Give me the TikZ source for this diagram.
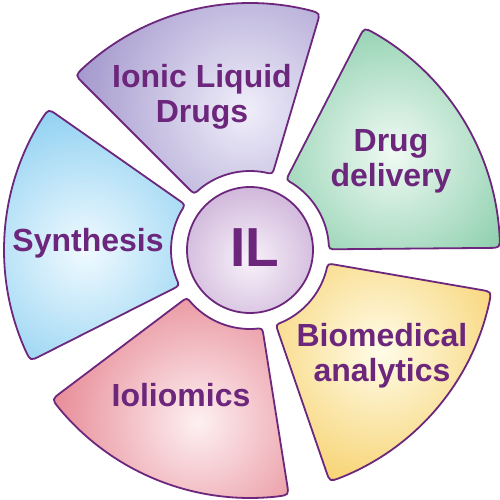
\documentclass[tikz,border=0pt]{standalone}
\usepackage{fontspec}
\setmainfont{Liberation Sans}
\definecolor{edgec}{RGB}{108,38,124}
\definecolor{purO}{RGB}{145,132,194}
\definecolor{purI}{RGB}{240,238,250}
\definecolor{grnO}{RGB}{92,186,138}
\definecolor{grnI}{RGB}{240,250,244}
\definecolor{ylwO}{RGB}{243,190,55}
\definecolor{ylwI}{RGB}{255,252,232}
\definecolor{pnkO}{RGB}{222,95,110}
\definecolor{pnkI}{RGB}{253,240,242}
\definecolor{bluO}{RGB}{100,190,235}
\definecolor{bluI}{RGB}{240,250,255}
\definecolor{cirO}{RGB}{172,130,190}
\definecolor{cirI}{RGB}{248,242,250}
% #1 start angle, #2 end angle, #3 inner radius, #4 outer radius
\newcommand\segpath[4]{({#1}:{#3+8}) -- ({#1}:{#4-11})
  .. controls ({#1}:{#4}) .. ({#1+630/#4}:{#4})
  arc[start angle={#1+630/#4}, end angle={#2-630/#4}, radius=#4]
  .. controls ({#2}:{#4}) .. ({#2}:{#4-11})
  -- ({#2}:{#3+8})
  .. controls ({#2}:{#3}) .. ({#2-458/#3}:{#3})
  arc[start angle={#2-458/#3}, end angle={#1+458/#3}, radius=#3]
  .. controls ({#1}:{#3}) .. ({#1}:{#3+8}) -- cycle}
\begin{document}
\begin{tikzpicture}[x=1pt,y=1pt,
  segment/.style n args={4}{draw=edgec, line width=1.8pt, line join=round, fill=#2,
    path picture={\shade[inner color=#1, outer color=#2] (#3,#4) circle (212);}},
  lbl/.style={text=edgec, font=\fontsize{32}{35}\selectfont\bfseries, align=center, inner sep=0pt}]
\useasboundingbox (-250,-250) rectangle (250,250);
% segments
\draw[segment={grnI}{grnO}{143}{97}] \segpath{0.5}{62.8}{79}{250};
\draw[segment={purI}{purO}{-5}{140}] \segpath{73.5}{135}{79}{247};
\draw[segment={bluI}{bluO}{-165}{0}] \segpath{145}{206.8}{79}{246};
\draw[segment={pnkI}{pnkO}{-52}{-172}] \segpath{217}{279}{79}{248};
\draw[segment={ylwI}{ylwO}{130}{-100}] \segpath{289}{350.2}{79}{245};
% centre
\draw[draw=edgec, line width=1.8pt, fill=cirO,
  path picture={\shade[inner color=cirI, outer color=cirO] (0,-10) circle (140);}]
  (0,0) circle (63);
\node[lbl, font=\fontsize{55}{55}\selectfont\bfseries] (il) at (5,2.5) {IL};
% labels
\node[lbl] (ild) at (-48,153) {Ionic Liquid\\Drugs};
\node[lbl] (dd) at (141,89) {Drug\\delivery};
\node[lbl] (syn) at (-162,6.4) {Synthesis};
\node[lbl] (bio) at (132,-106) {Biomedical\\analytics};
\node[lbl] (iol) at (-69,-145) {Ioliomics};
\end{tikzpicture}
\end{document}
